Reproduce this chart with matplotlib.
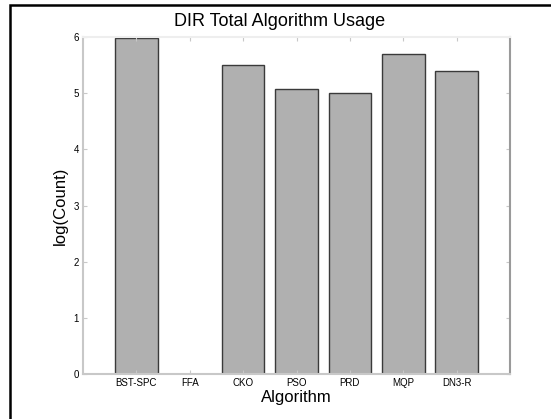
import matplotlib
matplotlib.use('Agg')
import matplotlib.pyplot as plt
from matplotlib.patches import Rectangle

plt.rcParams['font.family'] = ['Liberation Sans', 'DejaVu Sans']

# Log counts of DIR algorithm usage
algorithms = ['BST-SPC', 'FFA', 'CKO', 'PSO', 'PRD', 'MQP', 'DN3-R']
log_counts = [5.98, 0.0, 5.51, 5.07, 5.00, 5.70, 5.39]
yticks = [0, 1, 2, 3, 4, 5, 6]

W, H = 551, 419
fig = plt.figure(figsize=(W / 100, H / 100), dpi=100)
fig.patch.set_facecolor('white')

# outer black frame
fig.patches.append(Rectangle((10 / W, -0.05), 1.2, 1 - 5 / H + 0.05,
                             transform=fig.transFigure, fill=False,
                             edgecolor='black', linewidth=1.8))

ax = fig.add_axes([83 / W, 1 - 374 / H, 427 / W, 337 / H])
xpos = list(range(1, len(algorithms) + 1))
ax.bar(xpos, log_counts, width=0.8, color='#b0b0b0',
       edgecolor='#3a3a3a', linewidth=1.0)

ax.set_xlim(0, len(algorithms) + 1)
ax.set_ylim(0, 6)
ax.set_xticks(xpos)
ax.set_xticklabels(algorithms, fontsize=7)
ax.set_yticks(yticks)
ax.set_yticklabels([str(v) for v in yticks], fontsize=7)
ax.tick_params(direction='in', length=3, color='#c8c8c8',
               top=True, right=True, pad=3)

ax.spines['left'].set_color('#c8c8c8')
ax.spines['bottom'].set_color('#c8c8c8')
ax.spines['top'].set_color('#eeeeee')
ax.spines['right'].set_color('#9a9a9a')
for s in ax.spines.values():
    s.set_linewidth(1.5)

ax.set_xlabel('Algorithm', fontsize=12, labelpad=1)
ax.set_ylabel('log(Count)', fontsize=12, labelpad=4)
fig.text(280 / W, 1 - 22 / H, 'DIR Total Algorithm Usage',
         fontsize=13, ha='center', va='center')

fig.savefig('out.png', dpi=100)
